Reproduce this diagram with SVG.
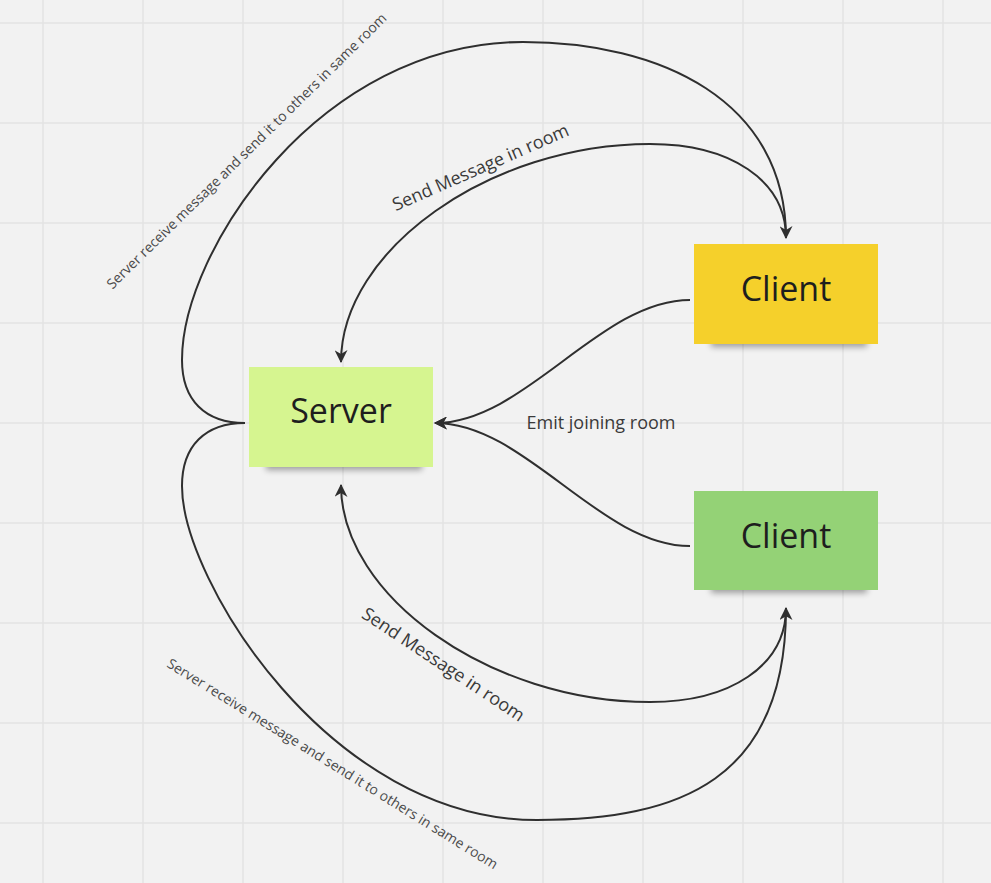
<svg xmlns="http://www.w3.org/2000/svg" width="991" height="883" viewBox="0 0 991 883">
  <style>
    .grid line { stroke: #e3e3e3; stroke-width: 1.5; }
    .edge { fill: none; stroke: #2f2f2f; stroke-width: 2; }
    .ntext { font-family: "Open Sans", "Noto Sans", sans-serif; font-size: 34px; fill: #1e1e1e; text-anchor: middle; }
    .lbl { font-family: "Open Sans", "Noto Sans", sans-serif; fill: #3a3a3a; text-anchor: middle; }
    .big { font-size: 18px; }
    .mid { font-size: 18px; }
    .small { font-size: 14px; fill: #4a4a4a; }
    .shadow { fill: #000; opacity: 0.35; filter: url(#blur); }
  </style>
  <defs>
    <marker id="arrow" viewBox="0 0 12 12" refX="11" refY="6" markerWidth="13" markerHeight="13" markerUnits="userSpaceOnUse" orient="auto">
      <path d="M0,0 L12,6 L0,12 L3.5,6 Z" fill="#2f2f2f"/>
    </marker>
    <filter id="blur" x="-20%" y="-100%" width="140%" height="300%">
      <feGaussianBlur stdDeviation="3"/>
    </filter>
  </defs>
  <rect width="991" height="883" fill="#f2f2f2"/>
  <g class="grid">
    <line x1="43" y1="0" x2="43" y2="883"/>
    <line x1="143" y1="0" x2="143" y2="883"/>
    <line x1="243" y1="0" x2="243" y2="883"/>
    <line x1="343" y1="0" x2="343" y2="883"/>
    <line x1="443" y1="0" x2="443" y2="883"/>
    <line x1="543" y1="0" x2="543" y2="883"/>
    <line x1="643" y1="0" x2="643" y2="883"/>
    <line x1="743" y1="0" x2="743" y2="883"/>
    <line x1="843" y1="0" x2="843" y2="883"/>
    <line x1="943" y1="0" x2="943" y2="883"/>
    <line x1="0" y1="23" x2="991" y2="23"/>
    <line x1="0" y1="123" x2="991" y2="123"/>
    <line x1="0" y1="223" x2="991" y2="223"/>
    <line x1="0" y1="323" x2="991" y2="323"/>
    <line x1="0" y1="423" x2="991" y2="423"/>
    <line x1="0" y1="523" x2="991" y2="523"/>
    <line x1="0" y1="623" x2="991" y2="623"/>
    <line x1="0" y1="723" x2="991" y2="723"/>
    <line x1="0" y1="823" x2="991" y2="823"/>
  </g>

  <g id="server">
    <rect class="shadow" x="266" y="458" width="156" height="12"/>
    <rect x="249" y="367" width="184" height="100" fill="#d6f590"/>
    <text class="ntext" x="341" y="423">Server</text>
  </g>
  <g id="client-yellow">
    <rect class="shadow" x="711" y="335" width="156" height="12"/>
    <rect x="694" y="244" width="184" height="100" fill="#f5d02b"/>
    <text class="ntext" x="786" y="301">Client</text>
  </g>
  <g id="client-green">
    <rect class="shadow" x="711" y="581" width="156" height="12"/>
    <rect x="694" y="491" width="184" height="99" fill="#94d276"/>
    <text class="ntext" x="786" y="548">Client</text>
  </g>

  <g id="connectors">
    <path class="edge" marker-end="url(#arrow)" d="M245,423 C205,423 182,400 182,360 C182,250 320,42 523,42 C660,42 786,100 786,238"/>
    <path class="edge" marker-end="url(#arrow)" d="M786,238 C786,180 730,144 650,144 C490,144 341,250 341,362"/>
    <path class="edge" marker-end="url(#arrow)" d="M690,300 C600,300 525,423 435,423"/>
    <path class="edge" marker-end="url(#arrow)" d="M690,546 C600,546 525,423 435,423"/>
    <path class="edge" marker-end="url(#arrow)" d="M786,608 C786,666 730,702 650,702 C490,702 341,596 341,485"/>
    <path class="edge" marker-end="url(#arrow)" d="M245,423 C205,423 182,446 182,486 C182,580 330,820 537,820 C680,820 786,780 786,608"/>
  </g>

  <g id="labels">
    <text class="lbl small" transform="translate(250,154.5) rotate(-44.5)">Server receive message and send it to others in same room</text>
    <text class="lbl big" transform="translate(483,173) rotate(-23.6)">Send Message in room</text>
    <text class="lbl mid" x="601" y="429">Emit joining room</text>
    <text class="lbl big" transform="translate(440,669.5) rotate(33.5)">Send Message in room</text>
    <text class="lbl small" transform="translate(330,768) rotate(31.8)">Server receive message and send it to others in same room</text>
  </g>
</svg>
